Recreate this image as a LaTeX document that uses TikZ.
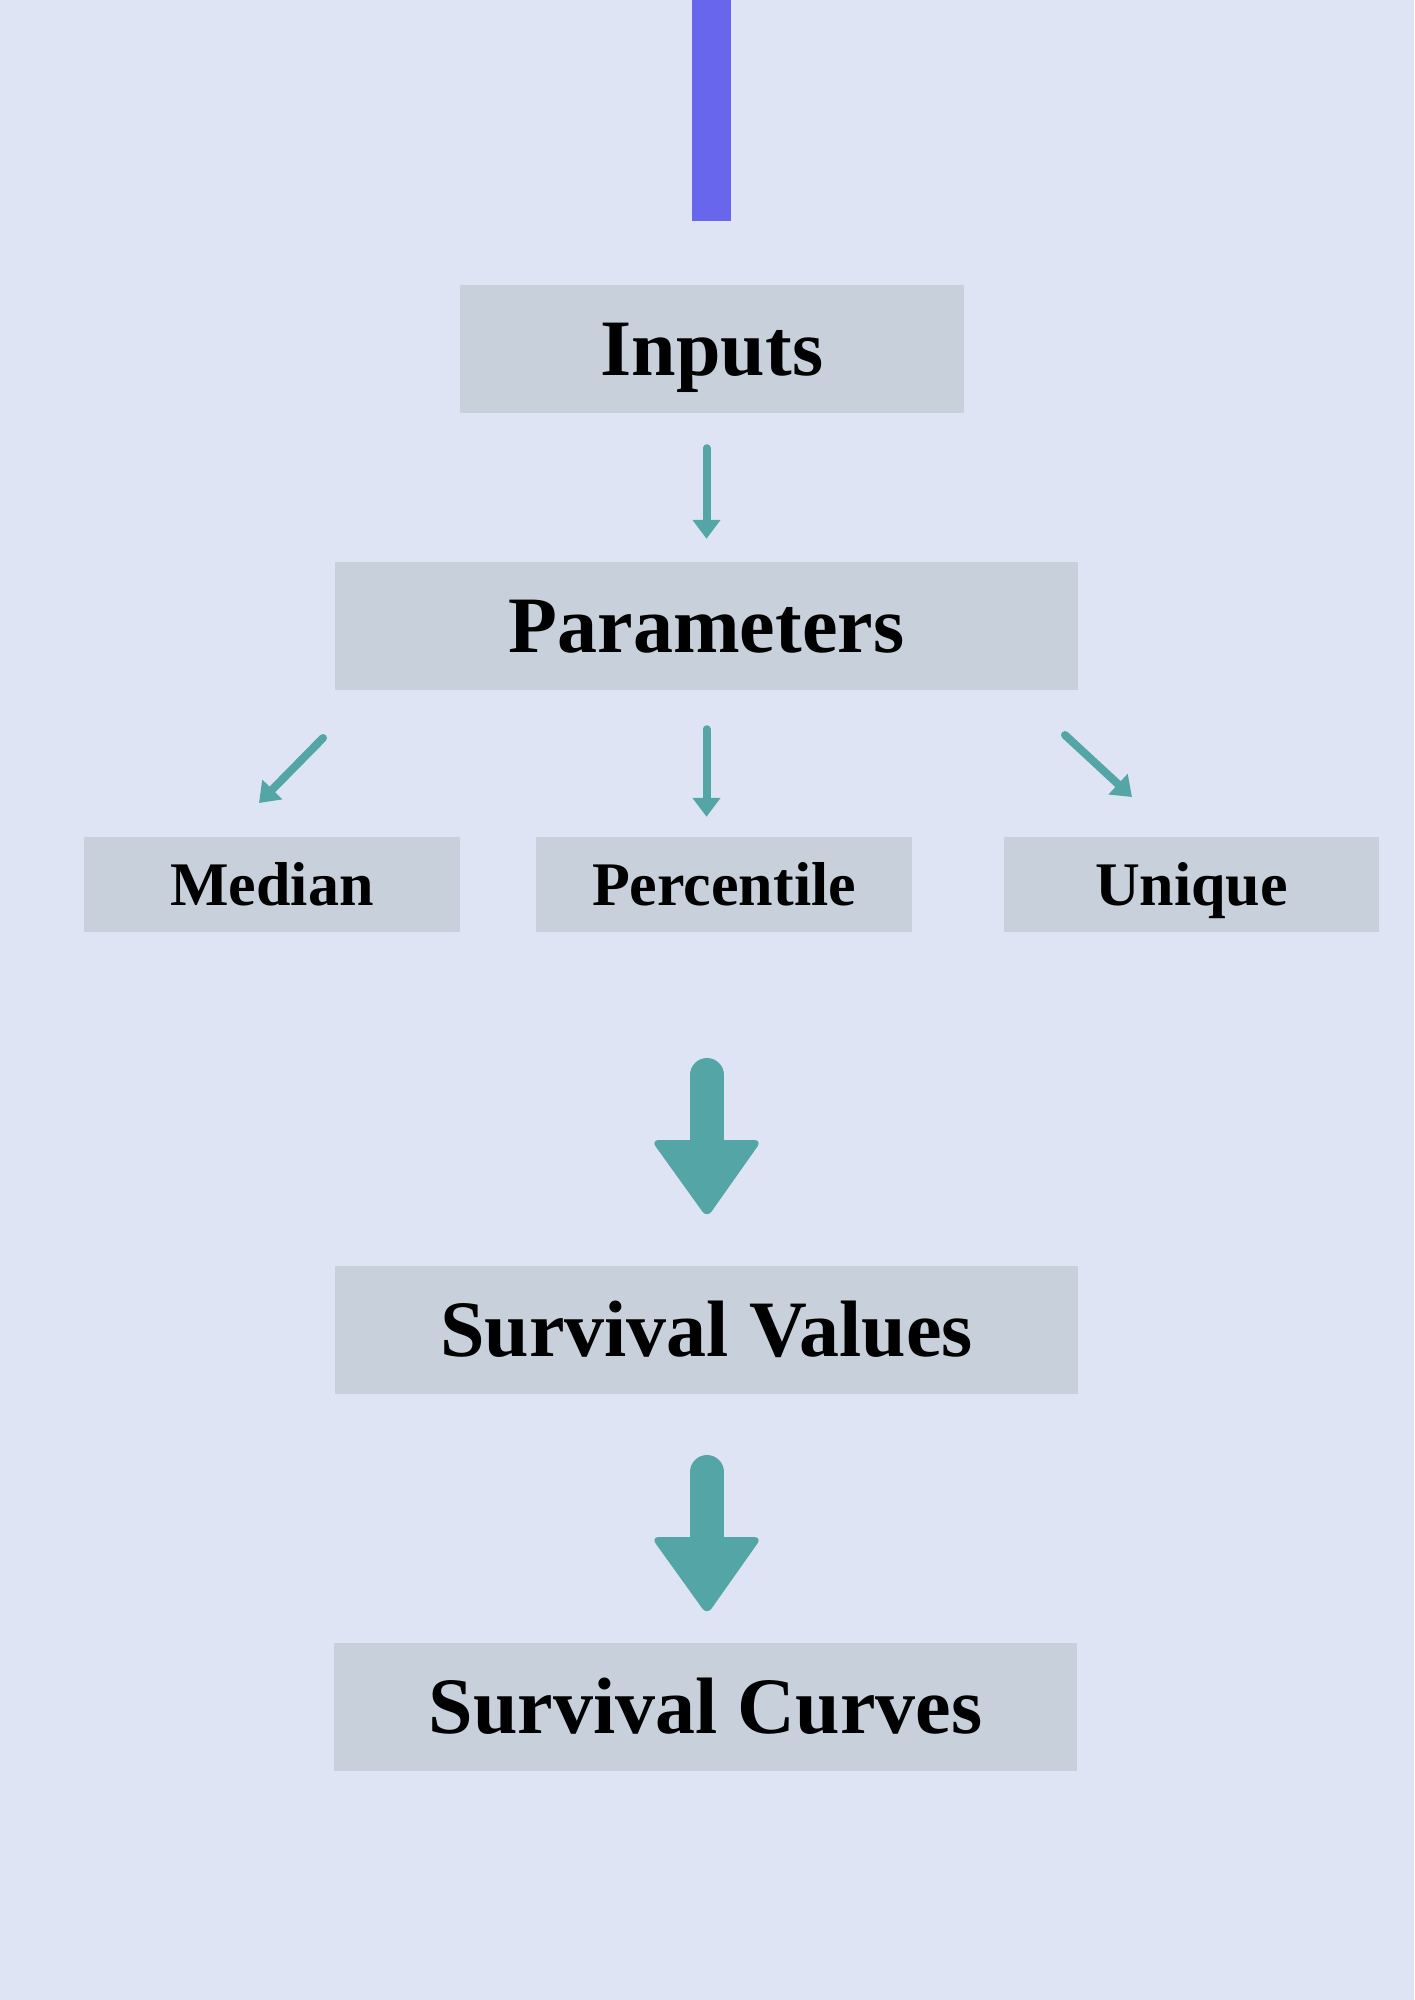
\documentclass[tikz,border=0pt]{standalone}
\usepackage{fontspec}
\setmainfont{Liberation Serif}
\usetikzlibrary{arrows.meta}
\definecolor{bgc}{HTML}{DFE4F5}
\definecolor{boxc}{HTML}{C8D0DB}
\definecolor{tealc}{HTML}{54A5A5}
\definecolor{purc}{HTML}{6966EE}
\tikzset{
  bigbox/.style={fill=boxc, inner sep=0pt, minimum width=743pt, minimum height=128pt,
    font=\fontsize{80}{80}\selectfont\bfseries, text height=53pt, text depth=0pt},
  smallbox/.style={fill=boxc, inner sep=0pt, minimum width=376pt, minimum height=95pt,
    font=\fontsize{62}{62}\selectfont\bfseries, text height=41pt, text depth=0pt},
  arr/.style={draw=tealc, line width=8pt, line cap=round, -{Triangle[width=27pt,length=19pt]}},
  bigshaft/.style={draw=tealc, line width=34pt, line cap=round},
  bighead/.style={fill=tealc, rounded corners=8pt}
}
\begin{document}
\begin{tikzpicture}[x=1pt,y=-1pt]
\fill[bgc] (0,0) rectangle (1414,2000);
\useasboundingbox (0,0) rectangle (1414,2000);
\fill[purc] (692,0) rectangle (731,221);

\node[bigbox, minimum width=504pt] (inputs) at (712,349) {Inputs};
\node[bigbox] (params) at (706.5,626) {Parameters};
\node[smallbox] (median) at (272,884.5) {Median};
\node[smallbox] (perc) at (724,884.5) {Percentile};
\node[smallbox, minimum width=375pt] (unique) at (1191.5,884.5) {Unique};
\node[bigbox] (sv) at (706.5,1330) {Survival Values};
\node[bigbox] (sc) at (705.5,1707) {Survival Curves};

\draw[arr, shorten <=35pt, shorten >=23pt] (params.north |- inputs.south) -- (params.north);
\draw[arr, shorten <=39pt, shorten >=20pt] (params.south) -- (params.south |- perc.north);
\coordinate (ls) at (323,738);
\coordinate (le) at (259,803);
\coordinate (rs) at (1065,735);
\coordinate (re) at (1132,797);
\draw[arr] (ls) -- (le);
\draw[arr] (rs) -- (re);

% big arrow 1
\coordinate (b1s) at (707,1075);
\coordinate (b1e) at (707,1150);
\draw[bigshaft] (b1s) -- (b1e);
\fill[bighead] (651,1140) -- (762,1140) -- (707,1218) -- cycle;
% big arrow 2
\coordinate (b2s) at (707,1472);
\coordinate (b2e) at (707,1547);
\draw[bigshaft] (b2s) -- (b2e);
\fill[bighead] (651,1537) -- (762,1537) -- (707,1615) -- cycle;
\end{tikzpicture}
\end{document}
